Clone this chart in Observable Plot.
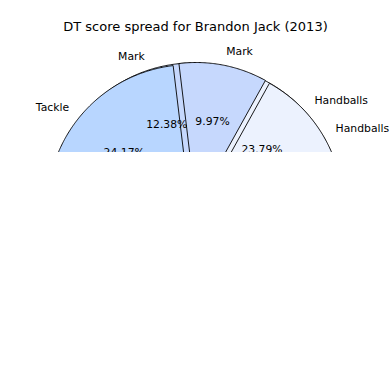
<!DOCTYPE html>
<html><head><meta charset="utf-8">
<script src="https://cdn.jsdelivr.net/npm/d3@7"></script>
<script src="https://cdn.jsdelivr.net/npm/@observablehq/plot@0.6"></script>
<style>
html,body{margin:0;padding:0;background:#fff;}
#wrap{width:390px;height:152px;overflow:hidden;background:#fff;}
</style></head><body><div id="wrap"></div>
<script>
const title = "DT score spread for Brandon Jack (2013)";
// pie drawn first (underneath)
const underCategories = ["Handballs", "Mark"];
const underValues = [23.79, 12.38];
// pie drawn on top
const upperCategories = ["Handballs", "Mark", "Tackle"];
const upperValues = [16.94, 9.97, 24.17];
const categoryColors = {Handballs: "#ecf2fe", Mark: "#c6d8fd", Tackle: "#b8d6ff"};

function pieLayout(cats, vals, startDeg, explode) {
  let a = startDeg;
  return cats.map((c, i) => {
    const t1 = a, t2 = a + vals[i] * 3.6; a = t2;
    const tm = (t1 + t2) / 2 * Math.PI / 180;
    const ox = explode * Math.cos(tm), oy = explode * Math.sin(tm);
    const pts = [{x: ox, y: oy}];
    const n = Math.max(2, Math.ceil((t2 - t1) / 0.5));
    for (let k = 0; k <= n; k++) {
      const t = (t1 + (t2 - t1) * k / n) * Math.PI / 180;
      pts.push({x: ox + Math.cos(t), y: oy + Math.sin(t)});
    }
    pts.push({x: ox, y: oy});
    return {category: c, value: vals[i], pct: vals[i].toFixed(2) + "%", pts,
      lx: ox + 1.1 * Math.cos(tm), ly: oy + 1.1 * Math.sin(tm),
      px: ox + 0.6 * Math.cos(tm), py: oy + 0.6 * Math.sin(tm)};
  });
}

const underPie = pieLayout(underCategories, underValues, 0.0, 0.04);
const upperPie = pieLayout(upperCategories, upperValues, 0.0, 0.042);
const allWedges = [...underPie, ...upperPie];

const wedgeMarks = allWedges.map(w => Plot.line(w.pts, {
  x: "x", y: "y", fill: categoryColors[w.category], stroke: "black",
  strokeWidth: 0.9, strokeLinejoin: "miter", curve: "linear"
}));

const fs = 10.8;
const chart = Plot.plot({
  width: 390, height: 390, margin: 0,
  x: {domain: [-1.3594, 1.3679], axis: null},
  y: {domain: [-1.2525, 1.4748], axis: null},
  style: {fontFamily: "'DejaVu Sans', sans-serif", background: "white", color: "black"},
  marks: [
    ...wedgeMarks,
    Plot.text(allWedges.filter(d => d.lx > 0), {x: "lx", y: "ly", text: "category", textAnchor: "start", fontSize: fs, fill: "black"}),
    Plot.text(allWedges.filter(d => d.lx <= 0), {x: "lx", y: "ly", text: "category", textAnchor: "end", fontSize: fs, fill: "black"}),
    Plot.text(allWedges, {x: "px", y: "py", text: "pct", textAnchor: "middle", fontSize: fs, fill: "black"}),
    Plot.text([title], {frameAnchor: "top", dy: 26, text: d => d, fontSize: 13, fill: "black", lineAnchor: "middle"})
  ]
});
document.getElementById("wrap").appendChild(chart);
</script></body></html>
